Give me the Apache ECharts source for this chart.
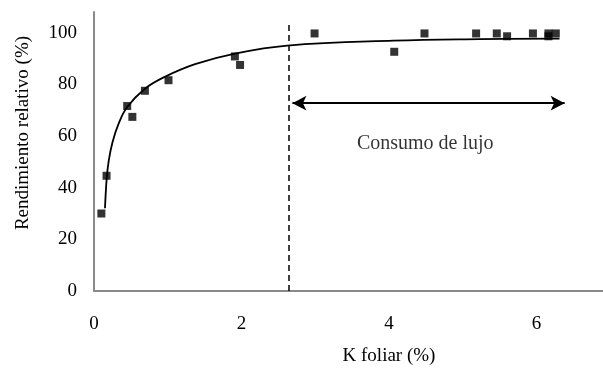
<!DOCTYPE html>
<html>
<head>
<meta charset="utf-8">
<script src="https://cdn.jsdelivr.net/npm/echarts@6/dist/echarts.min.js"></script>
<style>html,body{margin:0;padding:0;background:#fff}#c{width:603px;height:368px}</style>
</head>
<body>
<div id="c"></div>
<script>
// Observed points
var kFoliar = [0.10,0.17,0.45,0.52,0.69,1.01,1.91,1.98,2.99,4.07,4.48,5.18,5.46,5.60,5.95,6.16,6.16,6.26];
var rendimiento = [30.0,44.6,71.6,67.4,77.5,81.6,90.8,87.5,99.7,92.6,99.7,99.7,99.7,98.6,99.7,98.6,99.7,99.7];
// Fitted curve
var curveX = [0.149,0.172,0.20,0.25,0.33,0.45,0.69,0.96,1.37,1.91,2.62,4.06,5.23,6.31];
var curveY = [32.0,43.5,50.5,57.5,64.5,71.2,78.3,82.9,87.8,91.9,95.0,96.9,97.5,97.7];
// Annotations
var thresholdX = 2.64;
var thresholdTop = 104.4;
var arrowX = [2.69, 6.38];
var arrowY = 72.7;
var noteText = 'Consumo de lujo';
var notePos = [4.49, 57.0];
var xTitle = 'K foliar (%)';
var yTitle = 'Rendimiento relativo (%)';

var font = 'Liberation Serif';
var chart = echarts.init(document.getElementById('c'));
chart.setOption({
  animation: false,
  grid: {left: 94, right: 0, top: 12, bottom: 77},
  xAxis: {
    type: 'value', min: 0, max: 6.9, interval: 2,
    axisLine: {lineStyle: {color: '#8a8a8a', width: 2}},
    axisTick: {show: false},
    splitLine: {show: false},
    axisLabel: {color: '#000', fontFamily: font, fontSize: 19, margin: 24, showMaxLabel: false}
  },
  yAxis: {
    type: 'value', min: 0, max: 108, interval: 20,
    axisLine: {show: true, lineStyle: {color: '#8a8a8a', width: 2}},
    axisTick: {show: false},
    splitLine: {show: false},
    axisLabel: {color: '#000', fontFamily: font, fontSize: 19, margin: 17, showMaxLabel: false}
  },
  series: [
    {
      type: 'line', smooth: 0.4, symbol: 'none',
      lineStyle: {color: '#000', width: 1.8},
      data: curveX.map(function (x, i) { return [x, curveY[i]]; }),
      markLine: {
        silent: true, animation: false,
        label: {show: false},
        data: [
          [{coord: [thresholdX, 0], symbol: 'none', lineStyle: {type: [6, 4], color: '#000', width: 1.5}},
           {coord: [thresholdX, thresholdTop], symbol: 'none'}],
          [{coord: [arrowX[0], arrowY], symbol: 'arrow', symbolSize: [11, 14], lineStyle: {type: 'solid', color: '#000', width: 1.8}},
           {coord: [arrowX[1], arrowY], symbol: 'arrow', symbolSize: [11, 14]}]
        ]
      },
      z: 2
    },
    {
      type: 'scatter', symbol: 'rect', symbolSize: 8,
      itemStyle: {color: '#000'},
      data: kFoliar.map(function (x, i) { return [x, rendimiento[i]]; }),
      z: 3
    },
    {
      type: 'scatter', symbolSize: 0, silent: true,
      data: [notePos],
      label: {show: true, position: 'inside', formatter: noteText, color: '#000', fontFamily: font, fontSize: 20}
    }
  ],
  graphic: [
    {type: 'text', style: {text: xTitle, fontFamily: font, fontSize: 19, fill: '#000', align: 'center', verticalAlign: 'middle'}, position: [389, 356]},
    {type: 'text', style: {text: yTitle, fontFamily: font, fontSize: 19, fill: '#000', align: 'center', verticalAlign: 'middle'}, position: [23, 133], rotation: Math.PI / 2}
  ]
});
</script>
</body>
</html>
